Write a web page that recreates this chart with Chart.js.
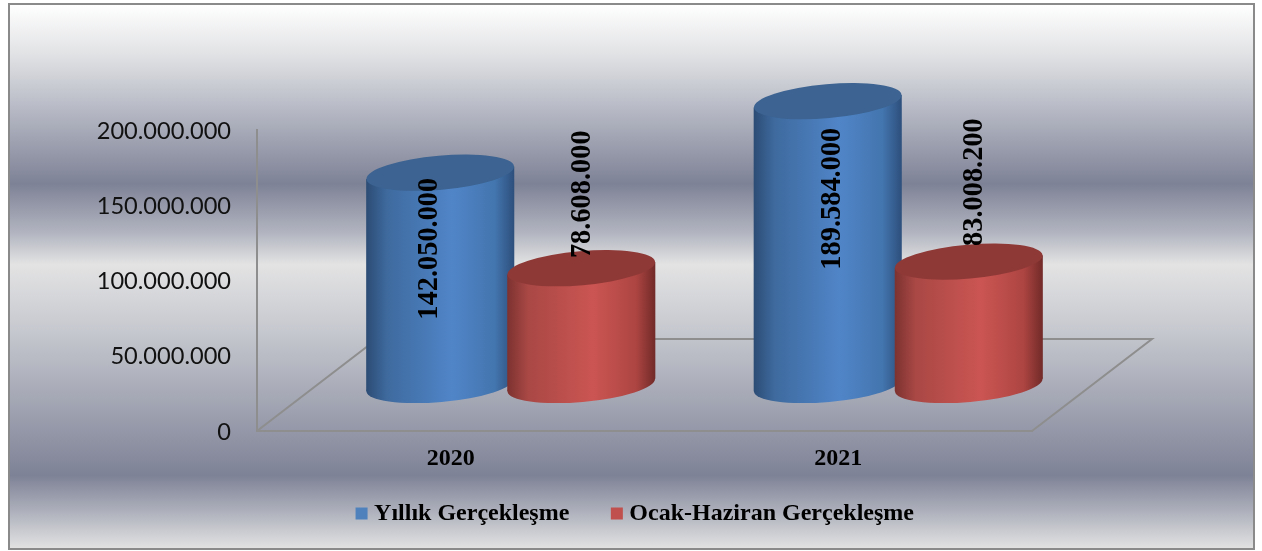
<!DOCTYPE html>
<html>
<head>
<meta charset="utf-8">
<style>
  html, body { margin: 0; padding: 0; background: #fff; }
  canvas { display: block; }
</style>
<script src="https://cdn.jsdelivr.net/npm/chart.js@4"></script>
</head>
<body>
<canvas id="myChart" width="1262" height="551"></canvas>
<script>
var years = ["2020", "2021"];
var yillik = [142050000, 189584000];
var ocakHaziran = [78608000, 83008200];
var seriesNames = ["Yıllık Gerçekleşme", "Ocak-Haziran Gerçekleşme"];

// hand placed value labels, relative to the top of each cylinder
var labelNudge = [
  [[-10.5, 75.5], [5, 97]],
  [[1, -74.5], [6, -80]]
];

var BLUE = { legend: '#4f81bd', top: '#3c6391', stops: ['#2c4c74', '#3e6a9e', '#5085c8', '#4375ae', '#2d4f7c'] };
var RED = { legend: '#c0504d', top: '#8f3937', stops: ['#7c3230', '#a94845', '#cb5552', '#ad4542', '#712a28'] };
var SERIF = '"Liberation Serif", serif';

function dots(v) {
  return String(v).replace(/\B(?=(\d{3})+$)/g, '.');
}

// background, frame and the 3d floor
var backdrop = {
  id: 'backdrop',
  afterLayout: function (chart) {
    // the legend sits under the plot, centred on the whole picture
    var l = chart.legend;
    l.left += 117;
    l.right += 117;
    l.top = 454.5;
  },
  beforeDraw: function (chart) {
    var c = chart.ctx;
    var g = c.createLinearGradient(0, 4, 0, 549);
    g.addColorStop(0, '#ffffff');
    g.addColorStop(0.09, '#e2e3e5');
    g.addColorStop(0.18, '#bcbfc9');
    g.addColorStop(0.33, '#7e8296');
    g.addColorStop(0.42, '#b2b5c0');
    g.addColorStop(0.478, '#e3e3e3');
    g.addColorStop(0.6, '#c6c8cf');
    g.addColorStop(0.865, '#7e8296');
    g.addColorStop(0.93, '#adb0bb');
    g.addColorStop(1, '#e3e3e3');
    c.fillStyle = g;
    c.fillRect(9, 4, 1245, 545);
    c.strokeStyle = '#8a8a8a';
    c.lineWidth = 2;
    c.strokeRect(9, 4, 1245, 545);
  },
  beforeDatasetsDraw: function (chart) {
    var c = chart.ctx, a = chart.chartArea;
    c.strokeStyle = '#8e8e8e';
    c.lineWidth = 2;
    c.beginPath();
    c.moveTo(a.left, a.bottom);
    c.lineTo(a.left + 120, a.bottom - 92);
    c.lineTo(a.right + 120, a.bottom - 92);
    c.lineTo(a.right, a.bottom);
    c.stroke();
  },
  beforeDatasetDraw: function () {
    return false; // cylinders are drawn below instead of the flat bars
  }
};

function cylinder(c, bar, look) {
  var cx = bar.x + 60, w = bar.width;
  var topY = bar.y - 44.5, baseY = bar.base - 46;
  var rx = w / 2, ry = 17, tilt = -0.087, shift = 6.2;

  var g = c.createLinearGradient(cx - rx, 0, cx + rx, 0);
  g.addColorStop(0, look.stops[0]);
  g.addColorStop(0.14, look.stops[1]);
  g.addColorStop(0.58, look.stops[2]);
  g.addColorStop(0.87, look.stops[3]);
  g.addColorStop(1, look.stops[4]);

  c.fillStyle = g;
  c.beginPath();
  c.ellipse(cx, baseY, rx, ry, tilt, 0, Math.PI * 2);
  c.fill();
  c.beginPath();
  c.moveTo(cx - rx, topY + shift);
  c.lineTo(cx + rx, topY - shift);
  c.lineTo(cx + rx, baseY - shift);
  c.lineTo(cx - rx, baseY + shift);
  c.closePath();
  c.fill();

  c.fillStyle = look.top;
  c.beginPath();
  c.ellipse(cx, topY, rx, ry, tilt, 0, Math.PI * 2);
  c.fill();
}

var cylinders = {
  id: 'cylinders',
  afterDatasetsDraw: function (chart) {
    var c = chart.ctx, looks = [BLUE, RED];
    c.save();
    years.forEach(function (y, i) {
      looks.forEach(function (look, d) {
        cylinder(c, chart.getDatasetMeta(d).data[i], look);
      });
    });
    c.font = 'bold 28.4px ' + SERIF;
    c.fillStyle = '#000';
    c.textAlign = 'center';
    c.textBaseline = 'middle';
    looks.forEach(function (look, d) {
      chart.getDatasetMeta(d).data.forEach(function (bar, i) {
        c.save();
        c.translate(bar.x + 60 + labelNudge[d][i][0], bar.y - 44 + labelNudge[d][i][1]);
        c.rotate(-Math.PI / 2);
        c.fillText(dots(chart.data.datasets[d].data[i]), 0, 0);
        c.restore();
      });
    });
    c.restore();
  }
};

var chart = new Chart(document.getElementById('myChart'), {
  type: 'bar',
  data: {
    labels: years,
    datasets: [
      { label: seriesNames[0], data: yillik, backgroundColor: BLUE.legend, borderColor: BLUE.legend, borderWidth: 11 },
      { label: seriesNames[1], data: ocakHaziran, backgroundColor: RED.legend, borderColor: RED.legend, borderWidth: 11 }
    ]
  },
  plugins: [backdrop, cylinders],
  options: {
    responsive: false,
    animation: false,
    layout: { padding: { left: 9, right: 230, top: 130, bottom: -11 } },
    datasets: { bar: { categoryPercentage: 0.728, barPercentage: 1.05 } },
    scales: {
      x: {
        grid: { display: false, drawTicks: false },
        border: { color: '#8e8e8e', width: 2 },
        ticks: { color: '#000', padding: 13, font: { family: SERIF, size: 24, weight: 'bold' } },
        afterFit: function (s) { s.height = 50; }
      },
      y: {
        min: 0,
        max: 200000000,
        grid: { display: false, drawTicks: false },
        border: { color: '#8e8e8e', width: 2 },
        ticks: {
          stepSize: 50000000,
          color: '#111',
          padding: 26,
          labelOffset: 1,
          font: { family: 'Lato', size: 23.6 },
          callback: function (v) { return dots(v); }
        },
        afterFit: function (s) { s.width = 248; }
      }
    },
    plugins: {
      tooltip: { enabled: false },
      legend: {
        position: 'bottom',
        labels: {
          boxWidth: 1,
          boxHeight: 1,
          padding: 47,
          color: '#000',
          font: { family: SERIF, size: 24, weight: 'bold' }
        }
      }
    }
  }
});
</script>
</body>
</html>
